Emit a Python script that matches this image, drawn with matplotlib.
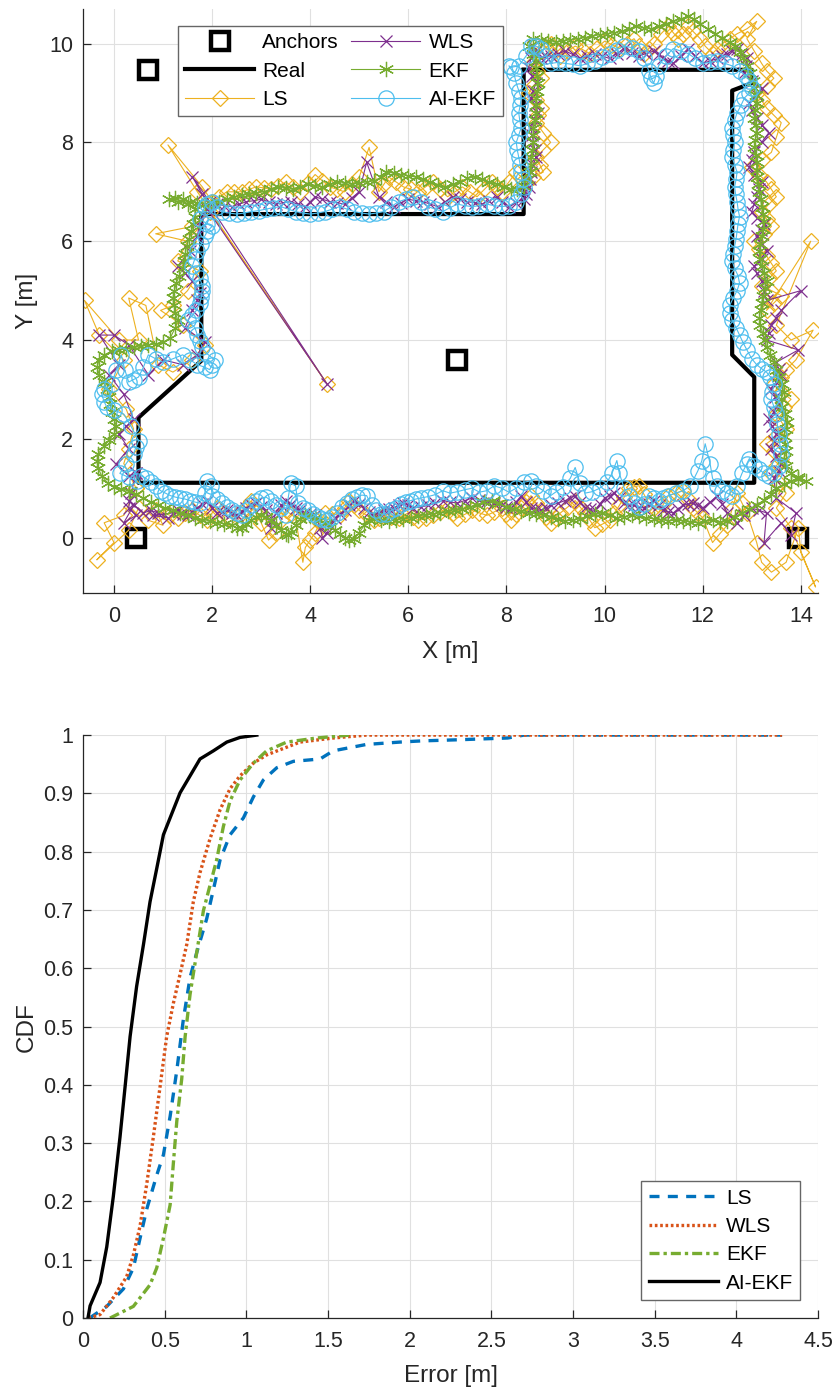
import matplotlib
matplotlib.use("Agg")
import matplotlib.pyplot as plt
import numpy as np
from matplotlib.ticker import FormatStrFormatter

plt.rcParams['font.family'] = ['Liberation Sans', 'DejaVu Sans']

# ---------------- data: trajectory ----------------
anchors_x = [0.7, 0.45, 7.0, 13.95]
anchors_y = [9.47, 0.0, 3.6, 0.0]

real_x = [8.35, 13.0, 13.0, 12.6, 12.6, 13.05, 13.05, 0.5, 0.5, 1.78, 1.78, 8.35, 8.35]
real_y = [9.47, 9.47, 9.2, 9.05, 3.7, 3.25, 1.11, 1.11, 2.43, 3.58, 6.55, 6.55, 9.47]

ls_xy = [(0.45, 1.0), (0.2, 0.45), (-0.2, 0.3), (0.0, -0.1), (-0.35, -0.45), (0.3, 0.15), (0.5, 0.6),
         (0.7, 0.35), (1.0, 0.25), (0.85, 0.55), (1.15, 0.45), (1.3, 0.4), (1.45, 0.5), (1.6, 0.55),
         (1.75, 0.45), (1.9, 0.35), (2.0, 0.5), (2.1, 0.6), (2.25, 0.5), (2.35, 0.4), (2.5, 0.45),
         (2.6, 0.5), (2.7, 0.62), (2.8, 0.75), (2.9, 0.5), (3.0, 0.3), (3.15, -0.05), (3.3, 0.1),
         (3.4, 0.35), (3.5, 0.55), (3.6, 0.48), (3.7, 0.4), (3.85, -0.5), (3.9, -0.2), (4.0, -0.05),
         (4.1, 0.1), (4.2, 0.3), (4.3, 0.5), (4.45, 0.48), (4.6, 0.45), (4.7, 0.6), (4.8, 0.75),
         (4.9, 0.65), (5.0, 0.55), (5.15, 0.45), (5.3, 0.35), (5.4, 0.4), (5.5, 0.45), (5.65, 0.42),
         (5.8, 0.4), (5.9, 0.45), (6.0, 0.5), (6.1, 0.42), (6.2, 0.35), (6.35, 0.4), (6.5, 0.45),
         (6.65, 0.52), (6.8, 0.6), (6.9, 0.5), (7.0, 0.4), (7.15, 0.47), (7.3, 0.55), (7.45, 0.5),
         (7.6, 0.45), (7.75, 0.52), (7.9, 0.6), (8.0, 0.47), (8.1, 0.35), (8.2, 0.48), (8.3, 0.6),
         (8.4, 0.72), (8.5, 0.85), (8.6, 0.7), (8.7, 0.55), (8.8, 0.42), (8.9, 0.3), (9.0, 0.4),
         (9.1, 0.5), (9.25, 0.62), (9.4, 0.75), (9.5, 0.62), (9.6, 0.5), (9.7, 0.35), (9.8, 0.2),
         (9.95, 0.27), (10.1, 0.35), (10.2, 0.5), (10.3, 0.65), (10.4, 0.82), (10.5, 1.0), (10.6, 1.03),
         (10.7, 1.05), (10.8, 0.88), (10.9, 0.7), (11.0, 0.6), (11.1, 0.5), (11.2, 0.68), (11.3, 0.85),
         (11.45, 0.9), (11.6, 0.95), (11.7, 0.78), (11.8, 0.6), (11.9, 0.5), (12.0, 0.4), (12.2, -0.1),
         (12.35, 0.08), (12.5, 0.25), (12.6, 0.58), (12.7, 0.9), (12.8, 0.7), (12.9, 0.5), (13.1, -0.1),
         (13.2, -0.5), (13.4, -0.7), (13.7, -0.5), (13.95, 0.2), (14.0, -0.3), (14.3, -1.0), (13.8, 0.2),
         (13.5, 0.6), (13.7, 0.9), (13.55, 1.1), (13.4, 1.3), (13.5, 1.45), (13.6, 1.6), (13.45, 1.75),
         (13.3, 1.9), (13.5, 2.05), (13.7, 2.2), (13.6, 2.35), (13.5, 2.5), (13.65, 2.65), (13.8, 2.8),
         (13.6, 2.95), (13.45, 3.1), (13.6, 3.25), (13.7, 3.4), (13.9, 3.6), (14.25, 4.2), (13.8, 4.0),
         (13.5, 4.3), (14.2, 6.0), (13.3, 4.6), (13.45, 4.75), (13.6, 4.9), (13.4, 5.0), (13.2, 5.1),
         (13.35, 5.25), (13.5, 5.4), (13.4, 5.55), (13.3, 5.7), (13.15, 5.85), (13.05, 6.0),
         (13.25, 6.15), (13.4, 6.3), (13.3, 6.45), (13.2, 6.6), (13.35, 6.75), (13.5, 6.9), (13.4, 7.05),
         (13.3, 7.2), (13.15, 7.35), (13.0, 7.5), (13.2, 7.65), (13.4, 7.8), (13.5, 8.1), (13.6, 8.4),
         (13.45, 8.55), (13.3, 8.7), (13.2, 8.85), (13.1, 9.0), (13.3, 9.15), (13.45, 9.3), (13.3, 9.45),
         (13.2, 9.6), (13.05, 9.85), (12.9, 10.1), (13.1, 10.45), (12.9, 10.3), (12.7, 10.2),
         (12.55, 10.1), (12.4, 10.0), (12.3, 9.9), (12.2, 9.8), (12.05, 9.95), (11.95, 10.1),
         (11.8, 10.25), (11.7, 10.35), (11.6, 10.2), (11.5, 10.1), (11.4, 10.22), (11.3, 10.35),
         (11.15, 10.2), (11.0, 10.0), (10.9, 9.9), (10.8, 9.8), (10.7, 9.95), (10.6, 10.1), (10.45, 10.0),
         (10.3, 9.9), (10.15, 9.98), (10.0, 10.05), (9.85, 9.92), (9.7, 9.8), (9.55, 9.88), (9.4, 9.95),
         (9.25, 9.85), (9.1, 9.75), (9.0, 9.88), (8.9, 10.0), (8.8, 9.92), (8.7, 9.85), (8.55, 9.6),
         (8.62, 9.45), (8.7, 9.3), (8.55, 9.15), (8.45, 9.0), (8.6, 8.85), (8.7, 8.7), (8.65, 8.55),
         (8.6, 8.4), (8.75, 8.2), (8.9, 8.0), (8.75, 7.85), (8.6, 7.7), (8.68, 7.55), (8.75, 7.4),
         (8.55, 7.3), (8.4, 7.2), (8.2, 7.4), (8.05, 7.2), (7.9, 7.0), (7.8, 7.1), (7.7, 7.2),
         (7.55, 7.05), (7.4, 6.9), (7.25, 7.0), (7.1, 7.1), (6.95, 7.0), (6.8, 6.9), (6.65, 7.05),
         (6.5, 7.2), (6.35, 7.1), (6.2, 7.0), (6.05, 7.05), (5.9, 7.1), (5.75, 7.2), (5.6, 7.3),
         (5.5, 7.15), (5.4, 7.0), (5.2, 7.9), (5.0, 7.3), (4.85, 7.15), (4.7, 7.0), (4.55, 7.05),
         (4.4, 7.1), (4.25, 7.22), (4.1, 7.35), (3.95, 7.18), (3.8, 7.0), (3.65, 7.1), (3.5, 7.2),
         (3.35, 7.12), (3.2, 7.05), (3.05, 7.08), (2.9, 7.1), (2.75, 7.05), (2.6, 7.0), (2.45, 7.0),
         (2.3, 7.0), (2.15, 6.9), (2.0, 6.8), (1.8, 7.1), (1.1, 7.95), (1.7, 7.0), (4.35, 3.1),
         (1.95, 6.6), (1.6, 6.3), (0.85, 6.15), (1.5, 6.0), (1.3, 5.6), (1.75, 5.4), (1.5, 5.0),
         (1.2, 4.7), (0.95, 4.6), (1.4, 4.3), (1.85, 3.9), (1.6, 3.6), (1.2, 3.35), (0.9, 3.5),
         (0.65, 4.7), (0.3, 4.85), (0.5, 4.0), (0.1, 4.0), (-0.6, 4.8), (-0.3, 4.1), (0.2, 3.6),
         (-0.1, 3.0), (0.25, 2.6), (0.4, 2.2), (0.3, 1.8), (0.2, 1.5), (0.45, 1.0)]

wls_xy = [(0.45, 1.3), (0.35, 0.9), (0.3, 0.6), (0.45, 0.45), (0.2, 0.3), (0.4, 0.65), (0.3, 0.75),
          (0.6, 0.5), (0.75, 0.55), (0.9, 0.5), (1.1, 0.4), (0.8, 0.45), (1.2, 0.5), (1.3, 0.55),
          (1.4, 0.48), (1.5, 0.45), (1.6, 0.52), (1.7, 0.6), (1.8, 0.68), (1.9, 0.75), (2.0, 0.6),
          (2.1, 0.5), (2.2, 0.52), (2.3, 0.55), (2.4, 0.5), (2.5, 0.45), (2.6, 0.52), (2.7, 0.6),
          (2.8, 0.65), (2.9, 0.7), (3.0, 0.62), (3.1, 0.55), (3.2, 0.2), (3.25, 0.35), (3.3, 0.5),
          (3.4, 0.65), (3.5, 0.75), (3.6, 0.68), (3.7, 0.6), (3.8, 0.55), (3.9, 0.5), (4.0, 0.48),
          (4.1, 0.45), (4.2, 0.2), (4.25, 0.0), (4.35, 0.1), (4.4, 0.25), (4.5, 0.4), (4.6, 0.48),
          (4.7, 0.55), (4.8, 0.65), (4.9, 0.75), (5.0, 0.68), (5.1, 0.6), (5.2, 0.52), (5.3, 0.45),
          (5.4, 0.5), (5.5, 0.55), (5.6, 0.57), (5.7, 0.6), (5.8, 0.65), (5.9, 0.7), (6.0, 0.65),
          (6.1, 0.6), (6.25, 0.62), (6.4, 0.65), (6.55, 0.7), (6.7, 0.75), (6.85, 0.72), (7.0, 0.7),
          (7.15, 0.75), (7.3, 0.8), (7.45, 0.77), (7.6, 0.75), (7.75, 0.7), (7.9, 0.65), (8.0, 0.62),
          (8.1, 0.6), (8.2, 0.72), (8.3, 0.85), (8.4, 0.72), (8.5, 0.6), (8.6, 0.57), (8.7, 0.55),
          (8.8, 0.6), (8.9, 0.65), (9.05, 0.7), (9.2, 0.75), (9.3, 0.8), (9.4, 0.85), (9.5, 0.72),
          (9.6, 0.6), (9.7, 0.57), (9.8, 0.55), (9.9, 0.68), (10.0, 0.8), (10.1, 0.85), (10.2, 0.9),
          (10.3, 0.8), (10.4, 0.7), (10.5, 0.67), (10.6, 0.65), (10.7, 0.62), (10.8, 0.6), (10.9, 0.68),
          (11.0, 0.75), (11.1, 0.65), (11.2, 0.55), (11.3, 0.52), (11.4, 0.5), (11.5, 0.58), (11.6, 0.65),
          (11.7, 0.68), (11.8, 0.7), (11.9, 0.65), (12.0, 0.6), (12.15, 0.72), (12.3, 0.85), (12.4, 0.68),
          (12.5, 0.5), (12.6, 0.4), (12.7, 0.3), (12.85, 0.45), (13.0, 0.6), (13.15, 0.55), (13.3, 0.5),
          (13.25, -0.1), (13.6, 0.3), (13.8, 0.05), (13.9, 0.5), (13.5, 0.8), (13.45, 1.2), (13.55, 1.35),
          (13.6, 1.5), (13.5, 1.65), (13.4, 1.8), (13.45, 1.95), (13.5, 2.1), (13.42, 2.25), (13.35, 2.4),
          (13.45, 2.55), (13.55, 2.7), (13.48, 2.85), (13.4, 3.0), (13.5, 3.15), (13.6, 3.3),
          (13.55, 3.42), (13.5, 3.55), (13.95, 3.8), (13.3, 4.0), (13.35, 4.15), (13.4, 4.3),
          (13.5, 4.45), (13.6, 4.6), (14.0, 5.0), (13.3, 4.8), (13.25, 5.0), (13.2, 5.2), (13.1, 5.35),
          (13.05, 5.5), (13.2, 5.65), (13.3, 5.8), (13.2, 5.95), (13.1, 6.1), (13.18, 6.22),
          (13.25, 6.35), (13.1, 6.48), (13.0, 6.6), (13.05, 6.75), (13.1, 6.9), (13.15, 7.05),
          (13.2, 7.2), (13.05, 7.35), (12.95, 7.5), (13.0, 7.65), (13.05, 7.8), (13.2, 8.0), (13.35, 8.2),
          (13.2, 8.35), (13.1, 8.5), (13.0, 8.65), (12.95, 8.8), (13.1, 8.95), (13.2, 9.1), (13.0, 9.25),
          (12.85, 9.4), (12.88, 9.55), (12.9, 9.7), (12.8, 9.8), (12.7, 9.9), (12.6, 9.85), (12.5, 9.8),
          (12.4, 9.75), (12.3, 9.7), (12.15, 9.65), (12.0, 9.6), (11.85, 9.75), (11.7, 9.9),
          (11.55, 9.75), (11.4, 9.6), (11.3, 9.65), (11.2, 9.7), (11.1, 9.78), (11.0, 9.85),
          (10.85, 9.8), (10.7, 9.75), (10.55, 9.82), (10.4, 9.9), (10.25, 9.8), (10.1, 9.7),
          (9.95, 9.75), (9.8, 9.8), (9.65, 9.75), (9.5, 9.7), (9.35, 9.78), (9.2, 9.85), (9.05, 9.8),
          (8.9, 9.75), (8.8, 9.72), (8.7, 9.7), (8.6, 9.85), (8.55, 9.95), (8.5, 9.7), (8.45, 9.5),
          (8.52, 9.35), (8.6, 9.2), (8.55, 9.05), (8.5, 8.9), (8.58, 8.75), (8.65, 8.6), (8.58, 8.45),
          (8.5, 8.3), (8.52, 8.15), (8.55, 8.0), (8.58, 7.85), (8.6, 7.7), (8.55, 7.55), (8.5, 7.4),
          (8.48, 7.25), (8.45, 7.1), (8.4, 6.95), (8.35, 6.85), (8.2, 6.78), (8.05, 6.7), (7.9, 6.8),
          (7.8, 6.9), (7.65, 6.82), (7.5, 6.75), (7.35, 6.78), (7.2, 6.8), (7.05, 6.85), (6.9, 6.9),
          (6.75, 6.8), (6.6, 6.7), (6.45, 6.75), (6.3, 6.8), (6.15, 6.82), (6.0, 6.85), (5.85, 6.78),
          (5.7, 6.7), (5.55, 6.8), (5.4, 6.9), (5.15, 7.6), (5.0, 7.0), (4.85, 6.88), (4.7, 6.75),
          (4.55, 6.78), (4.4, 6.8), (4.25, 6.85), (4.1, 6.9), (4.0, 6.8), (3.9, 6.7), (3.75, 6.75),
          (3.6, 6.8), (3.45, 6.78), (3.3, 6.75), (3.15, 6.8), (3.0, 6.85), (2.85, 6.82), (2.7, 6.8),
          (2.55, 6.75), (2.4, 6.7), (2.25, 6.72), (2.1, 6.75), (1.95, 6.8), (1.6, 7.3), (1.8, 6.95),
          (4.35, 3.1), (1.9, 6.65), (1.75, 6.4), (1.7, 6.1), (1.55, 5.8), (1.3, 5.5), (1.45, 5.35),
          (1.6, 5.2), (1.75, 4.95), (1.7, 4.8), (1.6, 4.6), (1.45, 4.25), (1.85, 3.95), (1.7, 3.7),
          (1.4, 3.5), (1.0, 3.6), (0.7, 3.3), (0.3, 3.9), (0.0, 4.1), (-0.3, 4.1), (0.1, 3.5),
          (-0.1, 3.3), (0.2, 2.9), (0.4, 2.4), (0.25, 2.25), (0.1, 2.1), (0.3, 1.8), (0.05, 1.5),
          (0.3, 1.25), (0.45, 1.3)]

ekf_xy = [(0.3, 0.95), (0.45, 0.88), (0.6, 0.8), (0.75, 0.72), (0.9, 0.65), (1.05, 0.6), (1.2, 0.55),
          (1.35, 0.5), (1.5, 0.45), (1.65, 0.4), (1.8, 0.35), (1.95, 0.33), (2.1, 0.3), (2.25, 0.28),
          (2.4, 0.25), (2.5, 0.2), (2.6, 0.2), (2.7, 0.27), (2.8, 0.35), (2.9, 0.42), (3.0, 0.45),
          (3.1, 0.42), (3.2, 0.35), (3.3, 0.25), (3.4, 0.15), (3.5, 0.07), (3.55, 0.05), (3.6, 0.12),
          (3.7, 0.25), (3.8, 0.38), (3.9, 0.45), (4.0, 0.43), (4.1, 0.4), (4.2, 0.35), (4.3, 0.3),
          (4.4, 0.22), (4.5, 0.15), (4.6, 0.07), (4.7, 0.0), (4.8, -0.05), (4.9, -0.02), (5.0, 0.1),
          (5.1, 0.25), (5.2, 0.35), (5.3, 0.37), (5.45, 0.35), (5.6, 0.33), (5.75, 0.36), (5.9, 0.38),
          (6.05, 0.4), (6.2, 0.43), (6.35, 0.45), (6.5, 0.48), (6.65, 0.5), (6.8, 0.53), (6.95, 0.55),
          (7.1, 0.58), (7.25, 0.62), (7.4, 0.67), (7.55, 0.72), (7.7, 0.75), (7.85, 0.7), (8.0, 0.62),
          (8.15, 0.57), (8.3, 0.53), (8.45, 0.5), (8.6, 0.48), (8.75, 0.46), (8.9, 0.42), (9.05, 0.37),
          (9.2, 0.34), (9.35, 0.35), (9.5, 0.38), (9.65, 0.43), (9.8, 0.47), (9.95, 0.5), (10.1, 0.45),
          (10.25, 0.4), (10.4, 0.42), (10.55, 0.45), (10.7, 0.43), (10.85, 0.4), (11.0, 0.38),
          (11.15, 0.36), (11.3, 0.34), (11.45, 0.35), (11.6, 0.34), (11.75, 0.31), (11.9, 0.3),
          (12.05, 0.33), (12.2, 0.35), (12.35, 0.31), (12.5, 0.33), (12.65, 0.42), (12.8, 0.5),
          (12.95, 0.58), (13.1, 0.66), (13.25, 0.76), (13.4, 0.88), (13.5, 1.0), (13.65, 1.08),
          (13.8, 1.15), (13.95, 1.18), (14.1, 1.15), (13.95, 1.22), (13.8, 1.3), (13.7, 1.45),
          (13.65, 1.6), (13.7, 1.75), (13.68, 1.9), (13.65, 2.05), (13.7, 2.2), (13.72, 2.35),
          (13.68, 2.5), (13.62, 2.65), (13.6, 2.8), (13.65, 2.95), (13.62, 3.1), (13.55, 3.25),
          (13.5, 3.4), (13.45, 3.55), (13.38, 3.7), (13.3, 3.85), (13.27, 4.0), (13.22, 4.15),
          (13.17, 4.3), (13.15, 4.45), (13.18, 4.6), (13.2, 4.75), (13.23, 4.9), (13.26, 5.05),
          (13.3, 5.2), (13.25, 5.35), (13.2, 5.5), (13.17, 5.65), (13.15, 5.8), (13.17, 5.95),
          (13.2, 6.1), (13.23, 6.25), (13.25, 6.4), (13.22, 6.55), (13.2, 6.7), (13.18, 6.85),
          (13.15, 7.0), (13.12, 7.15), (13.1, 7.3), (13.1, 7.45), (13.1, 7.6), (13.08, 7.75),
          (13.05, 7.9), (13.07, 8.05), (13.1, 8.2), (13.08, 8.35), (13.05, 8.5), (13.07, 8.65),
          (13.1, 8.8), (13.08, 8.95), (13.05, 9.1), (13.02, 9.25), (12.97, 9.4), (12.9, 9.55),
          (12.83, 9.7), (12.75, 9.83), (12.65, 9.95), (12.55, 10.03), (12.4, 10.12), (12.25, 10.2),
          (12.1, 10.3), (11.95, 10.4), (11.82, 10.5), (11.7, 10.55), (11.55, 10.5), (11.4, 10.45),
          (11.25, 10.4), (11.1, 10.35), (10.95, 10.3), (10.8, 10.32), (10.65, 10.35), (10.5, 10.3),
          (10.35, 10.25), (10.2, 10.22), (10.05, 10.2), (9.9, 10.18), (9.75, 10.15), (9.6, 10.12),
          (9.45, 10.1), (9.3, 10.08), (9.15, 10.05), (9.0, 10.03), (8.85, 10.05), (8.7, 10.08),
          (8.55, 10.1), (8.45, 9.95), (8.55, 9.8), (8.6, 9.65), (8.6, 9.5), (8.62, 9.35), (8.65, 9.2),
          (8.63, 9.05), (8.6, 8.9), (8.6, 8.75), (8.6, 8.6), (8.58, 8.45), (8.55, 8.3), (8.55, 8.15),
          (8.55, 8.0), (8.53, 7.85), (8.5, 7.7), (8.5, 7.55), (8.47, 7.4), (8.42, 7.25), (8.35, 7.12),
          (8.22, 7.06), (8.1, 7.05), (7.95, 7.1), (7.8, 7.15), (7.65, 7.2), (7.5, 7.25), (7.35, 7.3),
          (7.2, 7.27), (7.05, 7.2), (6.9, 7.15), (6.75, 7.1), (6.6, 7.13), (6.45, 7.2), (6.3, 7.25),
          (6.15, 7.3), (6.0, 7.32), (5.85, 7.35), (5.7, 7.38), (5.55, 7.4), (5.45, 7.3), (5.3, 7.22),
          (5.15, 7.2), (5.0, 7.18), (4.85, 7.15), (4.7, 7.17), (4.55, 7.2), (4.4, 7.15), (4.25, 7.1),
          (4.1, 7.12), (3.95, 7.15), (3.8, 7.1), (3.65, 7.05), (3.5, 7.07), (3.35, 7.1), (3.2, 7.05),
          (3.05, 7.0), (2.9, 6.98), (2.75, 6.95), (2.6, 6.93), (2.45, 6.9), (2.3, 6.85), (2.15, 6.8),
          (2.0, 6.77), (1.85, 6.75), (1.7, 6.78), (1.55, 6.8), (1.4, 6.85), (1.25, 6.87), (1.12, 6.85),
          (1.3, 6.8), (1.5, 6.75), (1.65, 6.65), (1.66, 6.5), (1.62, 6.35), (1.58, 6.2), (1.53, 6.05),
          (1.48, 5.9), (1.45, 5.75), (1.42, 5.6), (1.4, 5.45), (1.33, 5.3), (1.27, 5.15), (1.23, 5.0),
          (1.2, 4.85), (1.22, 4.7), (1.25, 4.55), (1.3, 4.4), (1.25, 4.25), (1.15, 4.05), (1.0, 3.95),
          (0.85, 3.92), (0.7, 3.9), (0.55, 3.87), (0.4, 3.85), (0.25, 3.82), (0.1, 3.8), (-0.05, 3.77),
          (-0.2, 3.7), (-0.3, 3.6), (-0.35, 3.45), (-0.3, 3.3), (-0.2, 3.15), (-0.15, 3.0), (-0.1, 2.85),
          (-0.08, 2.7), (-0.05, 2.55), (0.0, 2.4), (0.05, 2.25), (0.0, 2.1), (-0.1, 1.97), (-0.2, 1.85),
          (-0.32, 1.7), (-0.35, 1.55), (-0.32, 1.4), (-0.25, 1.25), (-0.12, 1.1), (0.0, 1.03),
          (0.15, 0.98), (0.3, 0.95)]

aiekf_xy = [(0.55, 1.25), (0.65, 1.2), (0.75, 1.12), (0.85, 1.05), (0.95, 0.95), (1.05, 0.9), (1.15, 0.85),
            (1.25, 0.82), (1.35, 0.8), (1.45, 0.78), (1.55, 0.75), (1.65, 0.72), (1.75, 0.7), (1.85, 0.9),
            (1.9, 1.15), (1.98, 1.05), (2.0, 0.85), (2.1, 0.78), (2.2, 0.7), (2.3, 0.62), (2.4, 0.55),
            (2.5, 0.5), (2.6, 0.45), (2.7, 0.55), (2.8, 0.65), (2.9, 0.75), (3.0, 0.8), (3.1, 0.82),
            (3.2, 0.75), (3.3, 0.67), (3.4, 0.6), (3.5, 0.45), (3.55, 0.8), (3.6, 1.1), (3.7, 1.05),
            (3.75, 0.7), (3.85, 0.6), (3.95, 0.55), (4.05, 0.48), (4.15, 0.42), (4.25, 0.38), (4.35, 0.35),
            (4.45, 0.42), (4.55, 0.5), (4.65, 0.62), (4.75, 0.7), (4.85, 0.78), (4.95, 0.82), (5.05, 0.86),
            (5.15, 0.85), (5.25, 0.65), (5.35, 0.55), (5.45, 0.47), (5.55, 0.48), (5.65, 0.55), (5.75, 0.6),
            (5.85, 0.68), (5.95, 0.72), (6.05, 0.75), (6.15, 0.78), (6.25, 0.8), (6.4, 0.83), (6.55, 0.87),
            (6.7, 0.95), (6.85, 0.9), (7.0, 0.93), (7.15, 0.97), (7.3, 1.0), (7.45, 0.92), (7.6, 0.95),
            (7.75, 1.05), (7.9, 1.0), (8.05, 0.92), (8.2, 1.0), (8.35, 1.12), (8.5, 1.15), (8.6, 1.05),
            (8.75, 0.95), (8.9, 0.85), (9.0, 0.92), (9.15, 1.02), (9.3, 1.2), (9.4, 1.42), (9.5, 1.1),
            (9.6, 0.9), (9.75, 0.93), (9.9, 1.0), (10.05, 1.12), (10.15, 1.3), (10.25, 1.56), (10.3, 1.3),
            (10.4, 1.0), (10.5, 0.85), (10.6, 0.7), (10.7, 0.62), (10.8, 0.68), (10.9, 0.85), (11.0, 0.8),
            (11.1, 0.75), (11.2, 0.8), (11.3, 0.85), (11.45, 0.9), (11.6, 0.95), (11.75, 1.05),
            (11.9, 1.35), (11.98, 1.55), (12.05, 1.9), (12.15, 1.5), (12.2, 1.2), (12.3, 1.05),
            (12.4, 0.95), (12.5, 0.9), (12.6, 0.85), (12.7, 1.05), (12.8, 1.3), (12.9, 1.5), (12.95, 1.6),
            (13.05, 1.45), (13.15, 1.38), (13.25, 1.3), (13.35, 1.25), (13.45, 1.3), (13.55, 1.45),
            (13.6, 1.7), (13.57, 1.9), (13.55, 2.1), (13.52, 2.3), (13.5, 2.5), (13.45, 2.65), (13.4, 2.8),
            (13.42, 2.95), (13.45, 3.1), (13.38, 3.25), (13.3, 3.35), (13.2, 3.42), (13.1, 3.5),
            (13.0, 3.62), (12.9, 3.8), (12.82, 3.95), (12.75, 4.1), (12.68, 4.25), (12.6, 4.4),
            (12.55, 4.55), (12.55, 4.7), (12.62, 4.85), (12.7, 5.0), (12.75, 5.15), (12.72, 5.3),
            (12.65, 5.45), (12.6, 5.6), (12.62, 5.75), (12.65, 5.9), (12.68, 6.05), (12.7, 6.2),
            (12.72, 6.35), (12.75, 6.5), (12.72, 6.65), (12.7, 6.8), (12.67, 6.95), (12.65, 7.1),
            (12.68, 7.25), (12.7, 7.4), (12.65, 7.55), (12.6, 7.7), (12.62, 7.85), (12.65, 8.0),
            (12.62, 8.15), (12.6, 8.3), (12.65, 8.45), (12.7, 8.6), (12.78, 8.75), (12.85, 8.9),
            (12.95, 9.0), (13.0, 9.1), (12.95, 9.25), (12.88, 9.35), (12.75, 9.45), (12.6, 9.55),
            (12.45, 9.6), (12.3, 9.65), (12.15, 9.62), (12.0, 9.6), (11.85, 9.7), (11.7, 9.8),
            (11.55, 9.85), (11.4, 9.9), (11.25, 9.75), (11.1, 9.55), (11.05, 9.35), (11.0, 9.2),
            (10.95, 9.3), (10.9, 9.45), (10.8, 9.7), (10.7, 9.85), (10.55, 9.92), (10.4, 9.95),
            (10.25, 9.88), (10.1, 9.8), (9.95, 9.72), (9.8, 9.65), (9.65, 9.6), (9.5, 9.55), (9.35, 9.58),
            (9.2, 9.6), (9.05, 9.62), (8.9, 9.6), (8.8, 9.75), (8.7, 9.9), (8.6, 9.95), (8.5, 9.95),
            (8.4, 9.75), (8.25, 9.55), (8.1, 9.52), (8.05, 9.55), (8.15, 9.4), (8.2, 9.2), (8.25, 9.05),
            (8.3, 8.9), (8.28, 8.75), (8.25, 8.6), (8.27, 8.45), (8.3, 8.3), (8.25, 8.15), (8.2, 8.0),
            (8.22, 7.85), (8.25, 7.7), (8.28, 7.55), (8.3, 7.4), (8.33, 7.25), (8.35, 7.1), (8.3, 6.95),
            (8.2, 6.8), (8.05, 6.72), (7.9, 6.7), (7.75, 6.72), (7.6, 6.75), (7.45, 6.72), (7.3, 6.7),
            (7.15, 6.72), (7.0, 6.75), (6.85, 6.68), (6.7, 6.6), (6.55, 6.65), (6.4, 6.7), (6.25, 6.8),
            (6.1, 6.9), (5.95, 6.85), (5.8, 6.8), (5.65, 6.7), (5.5, 6.6), (5.35, 6.57), (5.2, 6.55),
            (5.05, 6.57), (4.9, 6.6), (4.75, 6.65), (4.6, 6.7), (4.45, 6.65), (4.3, 6.6), (4.15, 6.57),
            (4.0, 6.55), (3.85, 6.57), (3.7, 6.6), (3.55, 6.65), (3.4, 6.7), (3.25, 6.68), (3.1, 6.65),
            (2.95, 6.62), (2.8, 6.6), (2.65, 6.57), (2.5, 6.55), (2.35, 6.57), (2.2, 6.6), (2.1, 6.7),
            (2.0, 6.8), (1.9, 6.75), (1.85, 6.7), (1.75, 6.45), (1.9, 6.35), (2.0, 6.3), (1.9, 6.2),
            (1.85, 6.1), (1.78, 5.95), (1.7, 5.8), (1.65, 5.65), (1.6, 5.5), (1.68, 5.35), (1.75, 5.25),
            (1.8, 5.1), (1.8, 5.0), (1.78, 4.87), (1.75, 4.75), (1.68, 4.6), (1.6, 4.5), (1.5, 4.4),
            (1.65, 4.25), (1.7, 4.1), (1.75, 3.97), (1.8, 3.85), (1.9, 3.72), (2.05, 3.6), (2.0, 3.5),
            (1.95, 3.4), (1.85, 3.45), (1.7, 3.5), (1.55, 3.6), (1.4, 3.7), (1.2, 3.62), (1.0, 3.55),
            (0.85, 3.62), (0.7, 3.7), (0.6, 3.45), (0.5, 3.25), (0.4, 3.2), (0.3, 3.15), (0.22, 3.4),
            (0.15, 3.7), (0.05, 3.4), (-0.05, 3.1), (-0.2, 3.0), (-0.25, 2.9), (-0.2, 2.75), (-0.15, 2.65),
            (0.0, 2.58), (0.2, 2.5), (0.35, 2.25), (0.5, 1.96), (0.45, 1.83), (0.4, 1.7), (0.25, 1.5),
            (0.12, 1.3), (0.3, 1.22), (0.47, 1.15)]

# ---------------- data: CDF ----------------
cdf_ls_err = [0.04, 0.145, 0.247, 0.308, 0.349, 0.39, 0.451, 0.492, 0.533, 0.574, 0.614, 0.655, 0.696,
              0.757, 0.798, 0.839, 0.9, 0.982, 1.043, 1.104, 1.186, 1.288, 1.451, 1.532, 1.736, 1.94,
              2.07, 2.3, 2.6, 2.7, 4.28]
cdf_ls = [0.0, 0.02, 0.05, 0.086, 0.137, 0.187, 0.245, 0.28, 0.346, 0.425, 0.512, 0.584, 0.627,
          0.685, 0.735, 0.786, 0.829, 0.858, 0.894, 0.923, 0.944, 0.955, 0.959, 0.973, 0.984, 0.988,
          0.99, 0.992, 0.995, 1.0, 1.0]

cdf_wls_err = [0.033, 0.104, 0.185, 0.267, 0.308, 0.349, 0.39, 0.43, 0.471, 0.512, 0.553, 0.594, 0.635,
               0.675, 0.716, 0.777, 0.839, 0.9, 0.961, 1.043, 1.124, 1.328, 1.532, 1.736, 4.28]
cdf_wls = [0.0, 0.006, 0.035, 0.071, 0.108, 0.158, 0.23, 0.31, 0.396, 0.483, 0.54, 0.59, 0.641,
           0.714, 0.764, 0.822, 0.872, 0.908, 0.93, 0.952, 0.966, 0.988, 0.995, 1.0, 1.0]

cdf_ekf_err = [0.165, 0.308, 0.41, 0.451, 0.492, 0.533, 0.553, 0.574, 0.604, 0.625, 0.655, 0.696, 0.737,
               0.777, 0.818, 0.859, 0.9, 0.961, 1.043, 1.124, 1.247, 1.43, 1.634]
cdf_ekf = [0.0, 0.02, 0.057, 0.086, 0.137, 0.194, 0.266, 0.338, 0.41, 0.483, 0.555, 0.627, 0.699,
           0.742, 0.786, 0.843, 0.887, 0.923, 0.952, 0.973, 0.988, 0.995, 1.0]

cdf_ai_err = [0.03, 0.043, 0.104, 0.145, 0.185, 0.226, 0.257, 0.288, 0.328, 0.37, 0.41, 0.451, 0.492,
              0.533, 0.594, 0.655, 0.716, 0.798, 0.88, 0.961, 1.064]
cdf_ai = [0.0, 0.021, 0.061, 0.122, 0.208, 0.31, 0.396, 0.483, 0.569, 0.641, 0.714, 0.771, 0.829,
          0.858, 0.901, 0.93, 0.959, 0.973, 0.988, 0.996, 1.0]

# MATLAB colours
cLS = (0.929, 0.694, 0.125)
cWLS = (0.494, 0.184, 0.556)
cEKF = (0.466, 0.674, 0.188)
cAI = (0.301, 0.745, 0.933)
axc = (0.15, 0.15, 0.15)

fig = plt.figure(figsize=(8.39, 13.93), dpi=100)
ax1 = fig.add_axes([0.099, 0.574, 0.876, 0.4195])
ax2 = fig.add_axes([0.099, 0.0538, 0.876, 0.4185])


def style(ax):
  ax.grid(True, color=(0.88, 0.88, 0.88), lw=0.8)
  ax.set_axisbelow(True)
  for s in ['top', 'right']:
    ax.spines[s].set_visible(False)
  for s in ['left', 'bottom']:
    ax.spines[s].set_color(axc)
    ax.spines[s].set_linewidth(0.9)
  ax.tick_params(direction='in', labelsize=15.5, colors=axc, length=6, width=0.9, pad=7)
  ax.tick_params(axis='x', pad=9)


# ---- top: trajectories ----
style(ax1)
ax1.plot(anchors_x, anchors_y, 's', color='k', mfc='none', ms=13, mew=3.2, ls='none', label='Anchors')
ax1.plot(real_x, real_y, '-', color='k', lw=3, label='Real')
ls_xy = np.array(ls_xy)
wls_xy = np.array(wls_xy)
ekf_xy = np.array(ekf_xy)
aiekf_xy = np.array(aiekf_xy)
ax1.plot(ls_xy[:, 0], ls_xy[:, 1], '-', marker='D', color=cLS, mfc='none', ms=8.5, lw=0.8, mew=0.9, label='LS')
ax1.plot(wls_xy[:, 0], wls_xy[:, 1], '-', marker='x', color=cWLS, ms=9, lw=0.8, mew=0.9, label='WLS')
ax1.plot(ekf_xy[:, 0], ekf_xy[:, 1], '-', marker=(6, 2, 0), color=cEKF, ms=11, lw=0.8, mew=0.9, label='EKF')
ax1.plot(aiekf_xy[:, 0], aiekf_xy[:, 1], '-', marker='o', color=cAI, mfc='none', ms=11, lw=0.8, mew=0.9,
         label='AI-EKF')
ax1.set_xlim(-0.63, 14.35)
ax1.set_ylim(-1.13, 10.7)
ax1.set_xticks(np.arange(0, 15, 2))
ax1.set_yticks(np.arange(0, 11, 2))
ax1.set_xlabel('X [m]', fontsize=17.5, color=axc, labelpad=10)
ax1.set_ylabel('Y [m]', fontsize=17.5, color=axc, labelpad=8)
leg1 = ax1.legend(ncol=2, loc='upper left', bbox_to_anchor=(0.129, 0.971), borderaxespad=0, fontsize=15,
                  frameon=True, fancybox=False, edgecolor=(0.4, 0.4, 0.4), framealpha=1, handlelength=3.3,
                  columnspacing=0.6, handletextpad=0.4, borderpad=0.35, labelspacing=0.45)
leg1.get_frame().set_linewidth(1.0)

# ---- bottom: CDF ----
style(ax2)
ax2.plot(cdf_ls_err, cdf_ls, color=(0.0, 0.447, 0.741), lw=2.4, ls=(0, (3, 2.5)), label='LS')
ax2.plot(cdf_wls_err, cdf_wls, color=(0.85, 0.325, 0.098), lw=2.4, ls=(0, (0.8, 0.8)), label='WLS')
ax2.plot(cdf_ekf_err, cdf_ekf, color=cEKF, lw=2.4, ls=(0, (3, 1.2, 1, 1.2)), label='EKF')
ax2.plot(cdf_ai_err, cdf_ai, color='k', lw=2.4, ls='-', label='AI-EKF')
ax2.set_xlim(0, 4.5)
ax2.set_ylim(0, 1)
ax2.set_xticks(np.arange(0, 4.51, 0.5))
ax2.set_yticks(np.arange(0, 1.01, 0.1))
ax2.xaxis.set_major_formatter(FormatStrFormatter('%g'))
ax2.yaxis.set_major_formatter(FormatStrFormatter('%g'))
ax2.set_xlabel('Error [m]', fontsize=17.5, color=axc, labelpad=10)
ax2.set_ylabel('CDF', fontsize=17.5, color=axc, labelpad=4)
leg2 = ax2.legend(loc='lower right', bbox_to_anchor=(0.976, 0.031), borderaxespad=0, fontsize=15,
                  frameon=True, fancybox=False, edgecolor=(0.4, 0.4, 0.4), framealpha=1, handlelength=3.3,
                  handletextpad=0.4, borderpad=0.35, labelspacing=0.45)
leg2.get_frame().set_linewidth(1.0)

fig.savefig('out.png', dpi=100)
